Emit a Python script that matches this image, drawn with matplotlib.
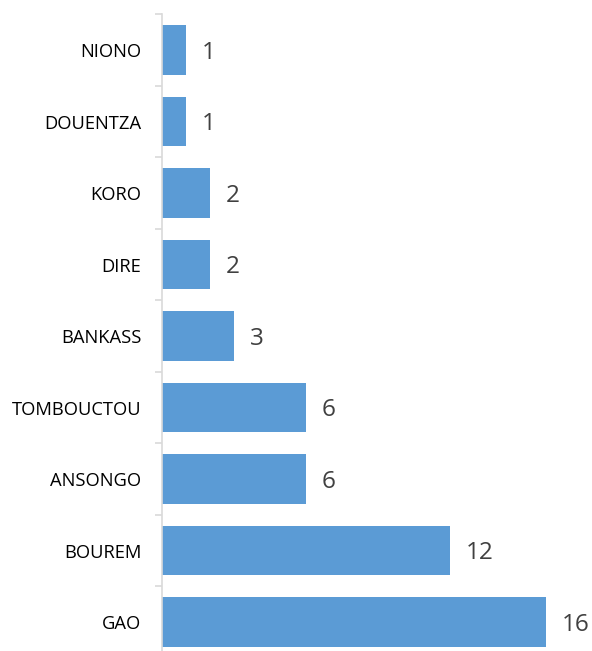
import matplotlib.pyplot as plt

categories = ["GAO", "BOUREM", "ANSONGO", "TOMBOUCTOU", "BANKASS", "DIRE", "KORO", "DOUENTZA", "NIONO"]
values = [16, 12, 6, 6, 3, 2, 2, 1, 1]

fig = plt.figure(figsize=(5.92, 6.51), dpi=100)
ax = fig.add_axes([162 / 592, -0.0104, 408 / 592, 0.9885])

bars = ax.barh(range(len(categories)), values, height=0.69, color='#5B9BD5')
ax.set_xlim(0, 17)
ax.set_ylim(-0.5, len(categories) - 0.5)

ax.set_yticks(range(len(categories)))
ax.set_yticklabels(categories, fontsize=13.2, color='black', family='Open Sans')
ax.tick_params(axis='y', length=0, pad=15)
ax.set_yticks([i - 0.5 for i in range(len(categories) + 1)], minor=True)
ax.tick_params(axis='y', which='minor', length=5, color='#D9D9D9', width=1.2)
ax.set_xticks([])

for s in ['top', 'right', 'bottom']:
    ax.spines[s].set_visible(False)
ax.spines['left'].set_color('#D9D9D9')
ax.spines['left'].set_linewidth(1.2)

for b, v in zip(bars, values):
    ax.text(v + 0.65, b.get_y() + b.get_height() / 2 - 0.04, str(v), va='center', ha='left',
            fontsize=17.5, color='#404040', family='Open Sans')

fig.savefig('out.png')
